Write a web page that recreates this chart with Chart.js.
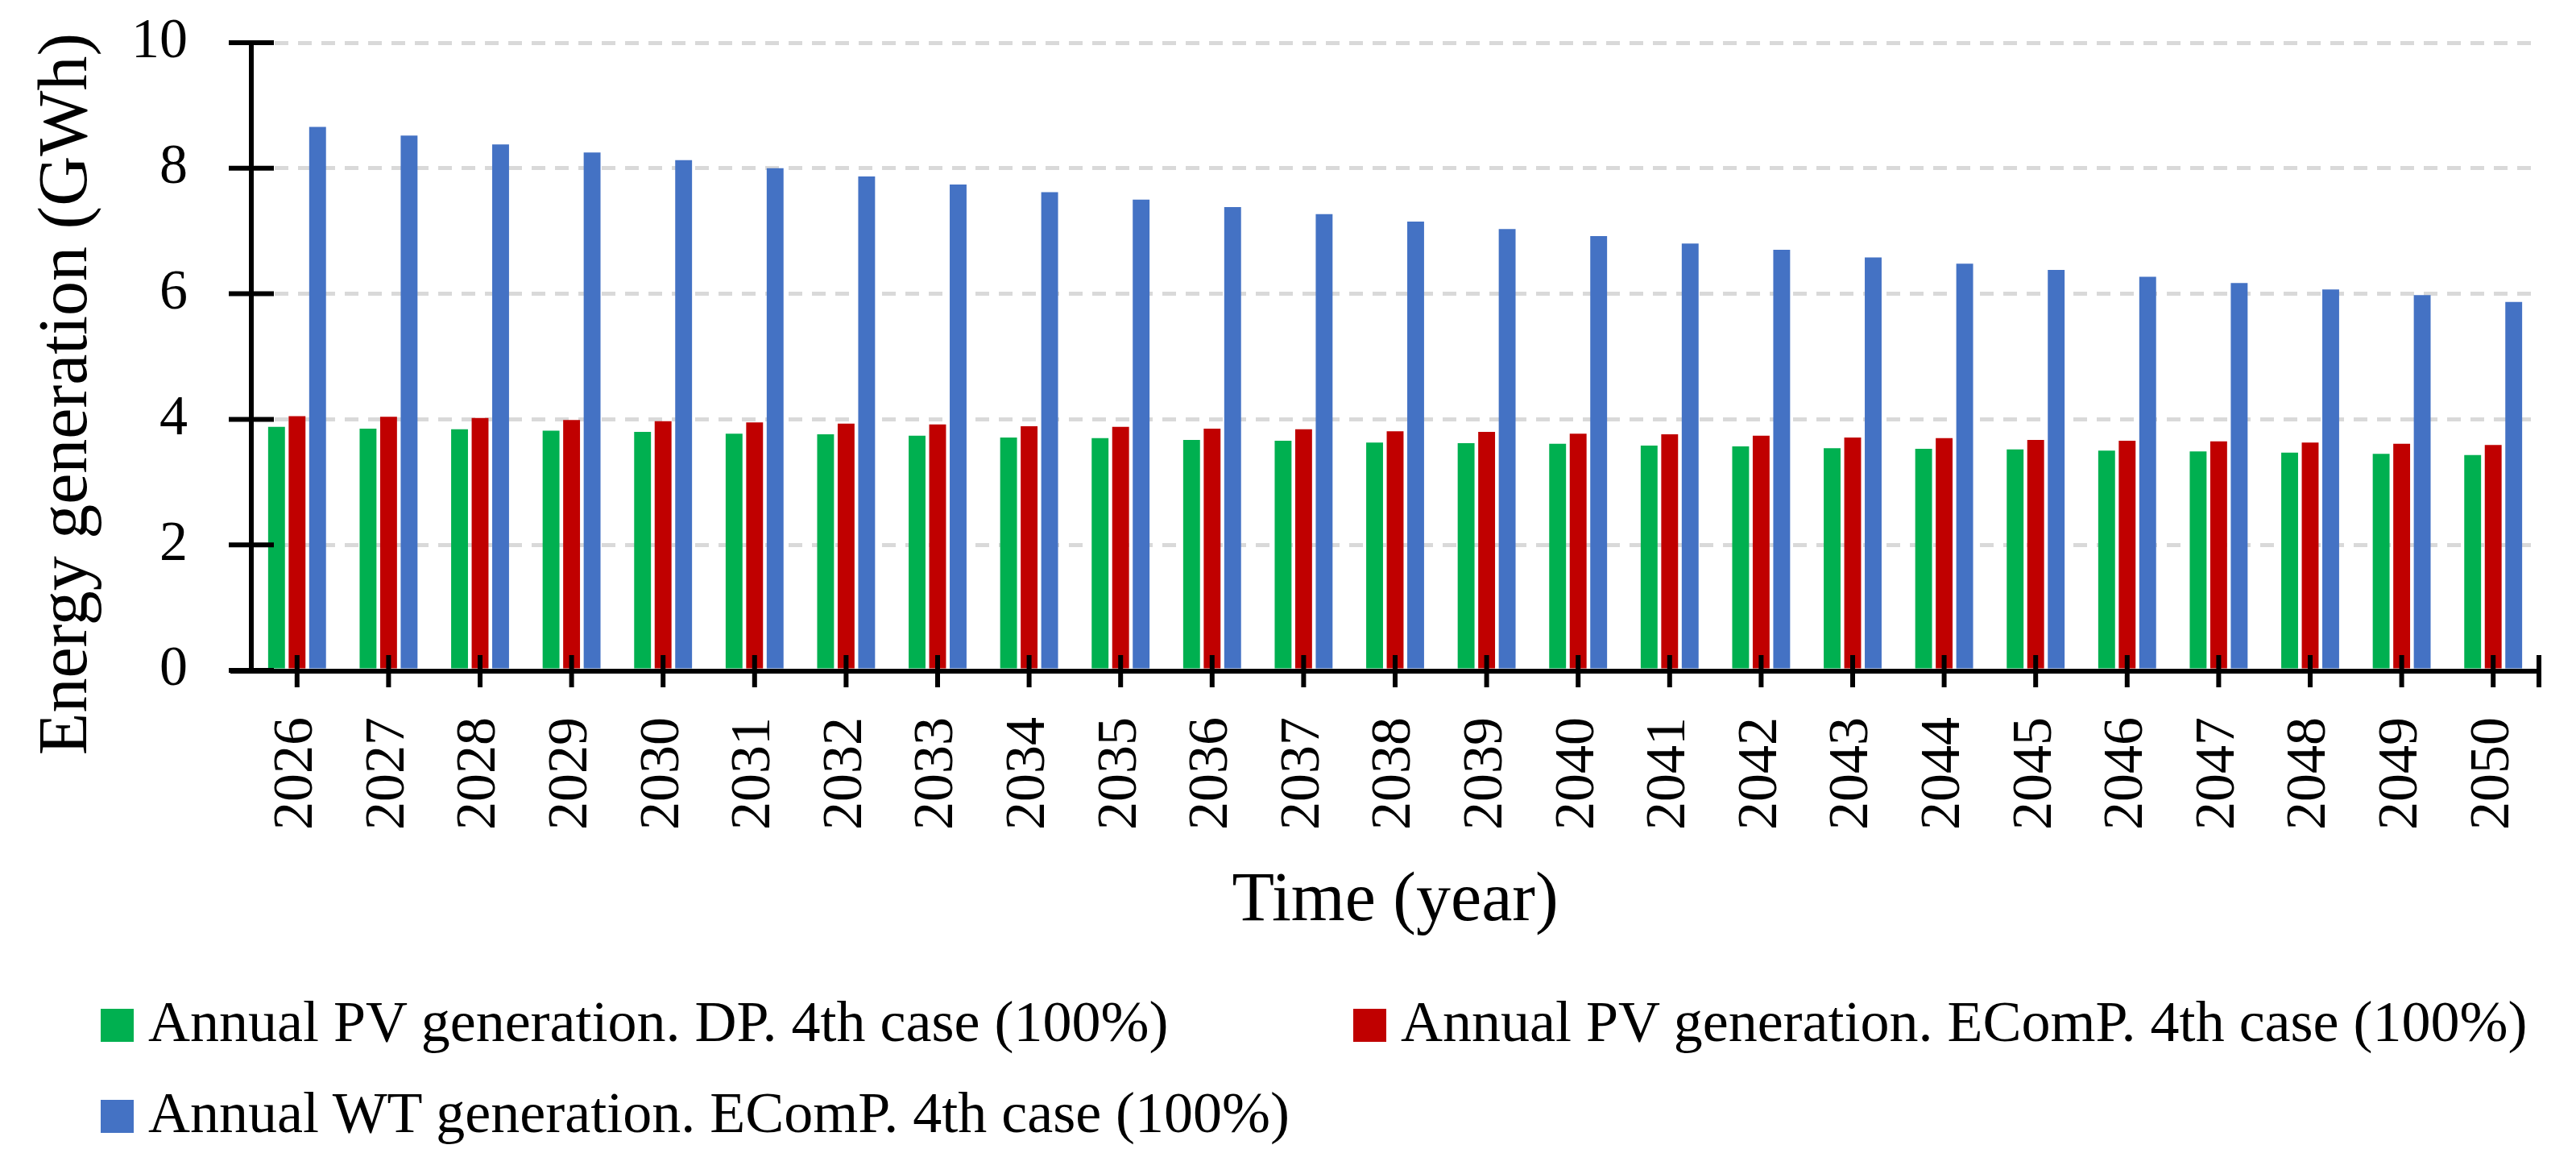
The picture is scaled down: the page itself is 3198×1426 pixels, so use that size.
<!DOCTYPE html>
<html>
<head>
<meta charset="utf-8">
<script src="https://cdn.jsdelivr.net/npm/chart.js@4.4.1/dist/chart.umd.min.js"></script>
<style>
  html, body { margin: 0; padding: 0; background: #fff; overflow: hidden; }
  #wrap { position: relative; width: 3198px; height: 1426px; }
  #legend .item { position: absolute; font-family: "Liberation Serif", serif; font-size: 72px; line-height: 72px; color: #000; white-space: nowrap; }
  #legend .box { position: absolute; width: 41px; height: 41px; }
</style>
</head>
<body>
<div id="wrap">
  <canvas id="energyChart" width="3198" height="1426"></canvas>
  <div id="legend"></div>
</div>
<script>
const years = ['2026', '2027', '2028', '2029', '2030', '2031', '2032', '2033', '2034', '2035', '2036', '2037',
  '2038', '2039', '2040', '2041', '2042', '2043', '2044', '2045', '2046', '2047', '2048', '2049', '2050'];

const pvDP = [3.88, 3.85, 3.84, 3.82, 3.80, 3.77, 3.76, 3.74, 3.71, 3.70, 3.67, 3.66, 3.63,
  3.62, 3.61, 3.58, 3.57, 3.54, 3.53, 3.52, 3.50, 3.49, 3.47, 3.45, 3.43];
const pvEComP = [4.05, 4.04, 4.02, 3.99, 3.97, 3.95, 3.93, 3.92, 3.89, 3.88, 3.85, 3.84, 3.81,
  3.80, 3.77, 3.76, 3.74, 3.71, 3.70, 3.67, 3.66, 3.65, 3.63, 3.61, 3.59];
const wtEComP = [8.66, 8.52, 8.38, 8.25, 8.13, 8.00, 7.87, 7.74, 7.62, 7.50, 7.38, 7.27, 7.15,
  7.03, 6.92, 6.80, 6.70, 6.58, 6.48, 6.38, 6.27, 6.17, 6.07, 5.98, 5.87];

const seriesNames = [
  'Annual PV generation. DP. 4th case (100%)',
  'Annual PV generation. EComP. 4th case (100%)',
  'Annual WT generation. EComP. 4th case (100%)'
];
const yTitle = 'Energy generation (GWh)';
const xTitle = 'Time (year)';

const FONT = '"Liberation Serif", serif';

// draws the black axes with ticks crossing them, plus the rotated y title
const axesPlugin = {
  id: 'axes',
  afterDraw(chart) {
    const { ctx, chartArea, scales } = chart;
    const x = scales.x, y = scales.y;
    const y0 = y.getPixelForValue(0);
    ctx.save();
    ctx.strokeStyle = '#000';
    ctx.lineWidth = 6;
    ctx.lineCap = 'butt';
    ctx.beginPath();
    ctx.moveTo(chartArea.left, y.getPixelForValue(10) - 3);
    ctx.lineTo(chartArea.left, y0 + 4);
    ctx.moveTo(chartArea.left - 26, y0 + 1);
    ctx.lineTo(chartArea.right + 3, y0 + 1);
    y.ticks.forEach(t => {
      const py = y.getPixelForValue(t.value);
      ctx.moveTo(chartArea.left - 28, py);
      ctx.lineTo(chartArea.left + 28, py);
    });
    years.forEach((_, i) => {
      const px = x.getPixelForValue(i);
      ctx.moveTo(px, y0 - 19);
      ctx.lineTo(px, y0 + 21);
    });
    ctx.moveTo(chartArea.right, y0 - 19);
    ctx.lineTo(chartArea.right, y0 + 21);
    ctx.stroke();

    ctx.translate(84, 489);
    ctx.rotate(-Math.PI / 2);
    ctx.fillStyle = '#000';
    ctx.font = '86px ' + FONT;
    ctx.textAlign = 'center';
    ctx.textBaseline = 'middle';
    ctx.fillText(yTitle, 0, 0);
    ctx.restore();
  }
};

const ctx = document.getElementById('energyChart').getContext('2d');
const chart = new Chart(ctx, {
  type: 'bar',
  data: {
    labels: years,
    datasets: [
      { label: seriesNames[0], data: pvDP, backgroundColor: '#00b050' },
      { label: seriesNames[1], data: pvEComP, backgroundColor: '#c00000' },
      { label: seriesNames[2], data: wtEComP, backgroundColor: '#4472c4' }
    ]
  },
  options: {
    responsive: false,
    animation: false,
    devicePixelRatio: 1,
    datasets: { bar: { categoryPercentage: 0.673, barPercentage: 0.82 } },
    layout: { padding: { left: 0, top: 53, right: 46, bottom: 255 } },
    plugins: { legend: { display: false }, tooltip: { enabled: false } },
    scales: {
      x: {
        grid: { display: false, drawTicks: false },
        border: { display: false },
        ticks: {
          color: '#000', font: { family: FONT, size: 70 },
          minRotation: 90, maxRotation: 90, autoSkip: false, padding: 58
        },
        title: {
          display: true, text: xTitle, color: '#000',
          font: { family: FONT, size: 86 }, padding: { top: 0, bottom: 0 }
        },
        afterFit(s) { s.height = 339; s.paddingLeft = 0; s.paddingRight = 0; }
      },
      y: {
        min: 0, max: 10,
        grid: { color: '#d9d9d9', lineWidth: 5, drawTicks: false },
        border: { display: false, dash: [17, 12] },
        ticks: { stepSize: 2, color: '#000', font: { family: FONT, size: 70 }, padding: 79 },
        afterFit(s) { s.width = 312; s.paddingTop = 0; s.paddingBottom = 0; }
      }
    }
  },
  plugins: [axesPlugin]
});

// legend below the plot, two columns like the original
const legendSlots = [
  { left: 125, baseline: 1292 },
  { left: 1680, baseline: 1292 },
  { left: 125, baseline: 1405 }
];
const legendEl = document.getElementById('legend');
chart.data.datasets.forEach((ds, i) => {
  const slot = legendSlots[i];
  const box = document.createElement('div');
  box.className = 'box';
  box.style.left = slot.left + 'px';
  box.style.top = (slot.baseline - 40) + 'px';
  box.style.background = ds.backgroundColor;
  legendEl.appendChild(box);
  const txt = document.createElement('div');
  txt.className = 'item';
  txt.style.left = (slot.left + 59) + 'px';
  txt.style.top = (slot.baseline - 60) + 'px';
  txt.textContent = ds.label;
  legendEl.appendChild(txt);
});
</script>
</body>
</html>
